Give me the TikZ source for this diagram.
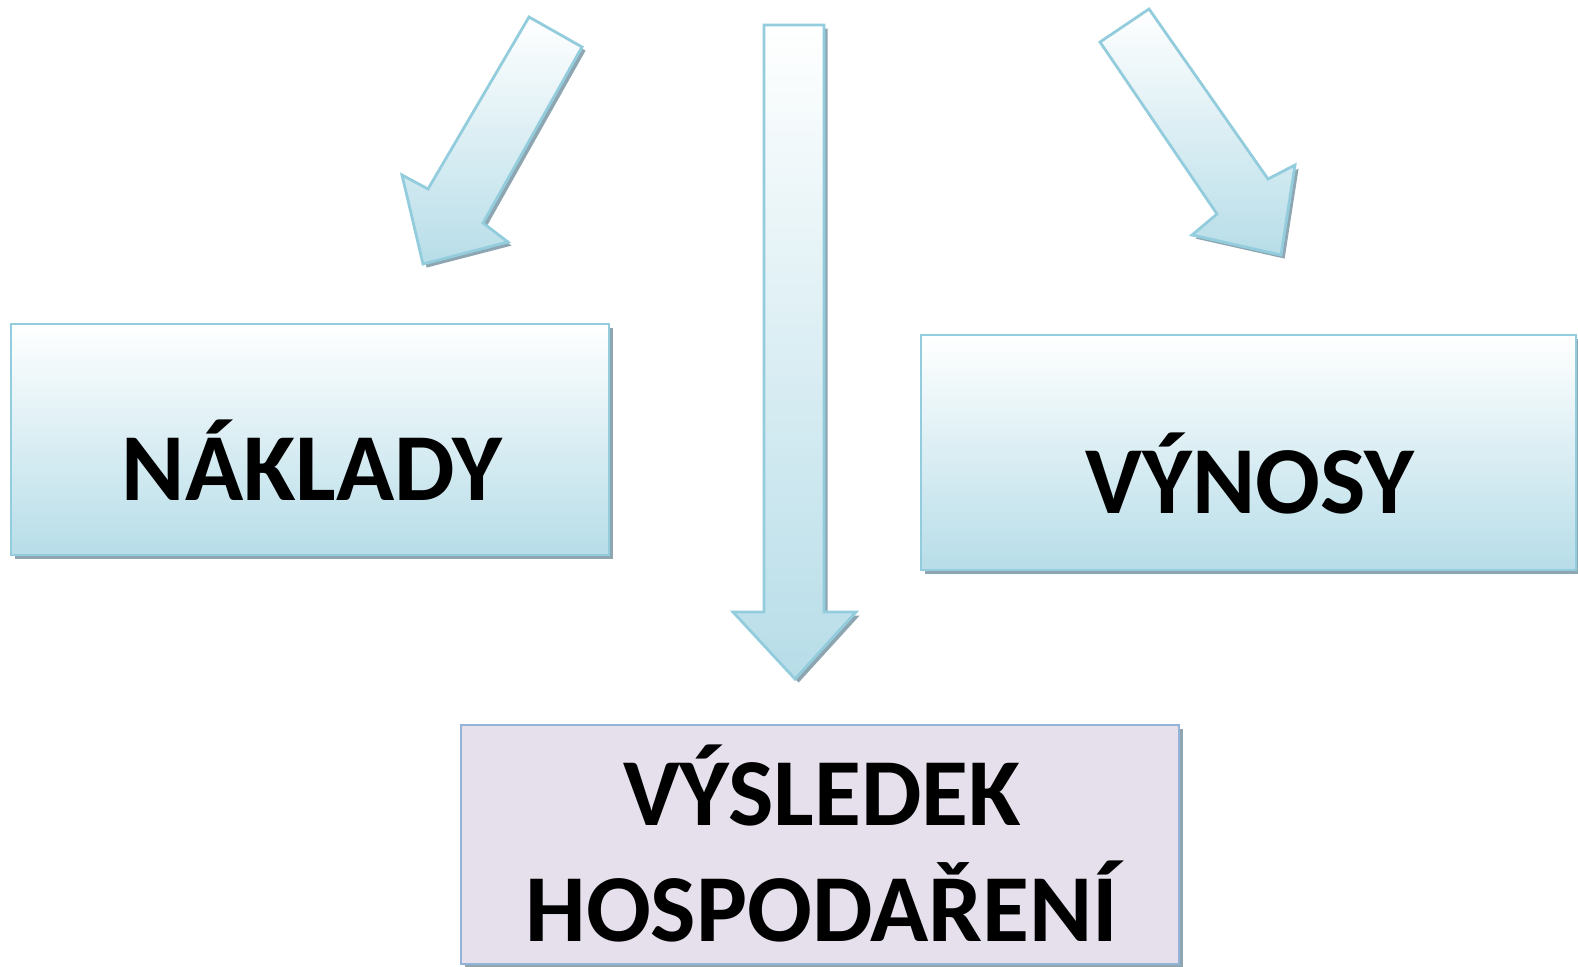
\documentclass[tikz,border=0pt]{standalone}
\usepackage{fontspec}
\setmainfont{Carlito}
\usetikzlibrary{shadows}
\definecolor{gbot}{HTML}{B7DDE8}
\definecolor{bline}{HTML}{93CDDD}
\definecolor{shad}{HTML}{8EA6B1}
\definecolor{lav}{HTML}{E5E0EC}
\definecolor{lavline}{HTML}{95B3D7}
\begin{document}
\begin{tikzpicture}[x=0.5pt,y=-0.5pt,
  sh/.style={drop shadow={shadow xshift=1.8pt, shadow yshift=-1.8pt, fill=shad, opacity=1}},
  bluebox/.style={sh, draw=bline, line width=1.4pt, top color=white, bottom color=gbot},
  lavbox/.style={sh, draw=lavline, line width=1.4pt, fill=lav},
  lbl/.style={font=\fontsize{48}{58}\selectfont\bfseries, align=center, inner sep=0, anchor=base}]
\useasboundingbox (0,0) rectangle (1578,966);
% boxes
\node[bluebox, minimum width=299pt, minimum height=115.5pt, inner sep=0] (nak) at (310,439.5) {};
\node[bluebox, minimum width=327.5pt, minimum height=117.5pt, inner sep=0] (vyn) at (1248.5,452.5) {};
\node[lavbox, minimum width=359pt, minimum height=119.5pt, inner sep=0] (vys) at (820,844.5) {};
% labels
\node[lbl] (tnak) at (312,500) {NÁKLADY};
\node[lbl] (tvyn) at (1250,513) {VÝNOSY};
\node[lbl] (tvys) at (822,941) {VÝSLEDEK\\HOSPODAŘENÍ};
% block arrows
\path[bluebox] (529,17) -- (582,47) -- (483,223) -- (508,242) -- (423,264) -- (402,175) -- (428,189) -- cycle;
\path[bluebox] (764,25) -- (824,25) -- (824,612) -- (856,612) -- (795,679) -- (733,612) -- (764,612) -- cycle;
\path[bluebox] (1100,42) -- (1149,9) -- (1268,179) -- (1295,165) -- (1281,255) -- (1192,235) -- (1217,214) -- cycle;
\end{tikzpicture}
\end{document}
